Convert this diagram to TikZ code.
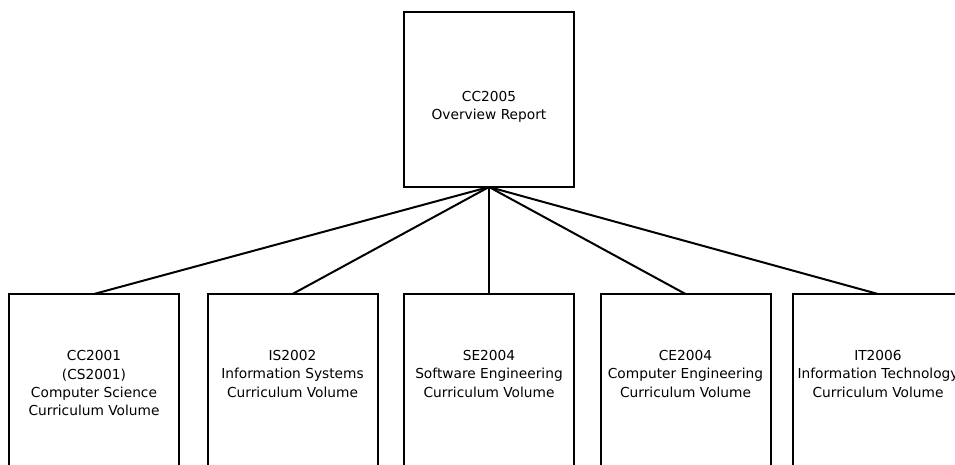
\documentclass[tikz,border=0pt]{standalone}
\usepackage{fontspec}
\setmainfont{DejaVu Sans}
\begin{document}
\begin{tikzpicture}[x=1pt,y=-1pt,
  box/.style={draw=black,line width=2pt,minimum width=170pt,inner sep=0pt,outer sep=0pt},
  topbox/.style={box,minimum height=175pt},
  lowbox/.style={box,minimum height=200pt},
  txt/.style={align=center,anchor=base,inner sep=0pt,font=\fontsize{13.75}{18.2}\selectfont},
  link/.style={line width=2pt}]
\useasboundingbox (0,0) rectangle (955,465);
\clip (0,0) rectangle (955,465);
\node[topbox] (top) at (489,99.5) {};
\node[lowbox] (b1) at (94,394) {};
\node[lowbox] (b2) at (292.5,394) {};
\node[lowbox] (b3) at (489,394) {};
\node[lowbox] (b4) at (685.5,394) {};
\node[lowbox] (b5) at (878,394) {};
\node[txt] (t0) at (489,119.5) {CC2005\\Overview Report};
\node[txt] (t1) at (94,415.5) {CC2001\\(CS2001)\\Computer Science\\Curriculum Volume};
\node[txt] (t2) at (292.5,397) {IS2002\\Information Systems\\Curriculum Volume};
\node[txt] (t3) at (489,397) {SE2004\\Software Engineering\\Curriculum Volume};
\node[txt] (t4) at (685.5,397) {CE2004\\Computer Engineering\\Curriculum Volume};
\node[txt] (t5) at (878,397) {IT2006\\Information Technology\\Curriculum Volume};
\foreach \b in {b1,b2,b3,b4,b5}
  \draw[link] (top.south) -- (\b.north);
\end{tikzpicture}
\end{document}
